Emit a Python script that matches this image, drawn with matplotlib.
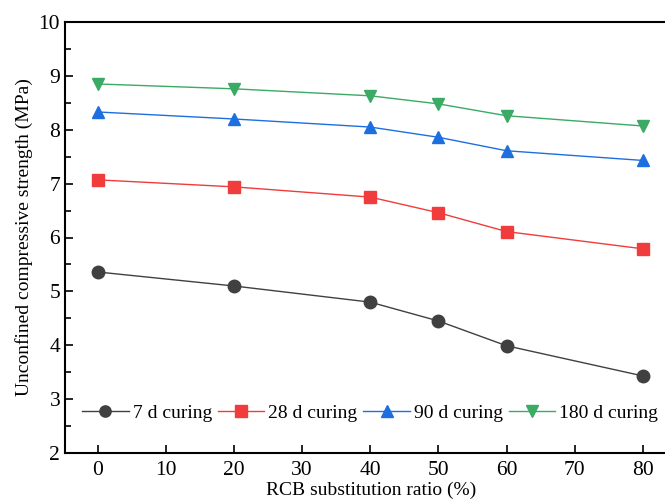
import matplotlib
matplotlib.use("Agg")
import matplotlib.pyplot as plt
from matplotlib.ticker import MultipleLocator

plt.rcParams['font.family'] = ['Liberation Serif', 'DejaVu Serif']
plt.rcParams['mathtext.fontset'] = 'stix'

ratio = [0, 20, 40, 50, 60, 80]
s7 = [5.36, 5.10, 4.80, 4.45, 3.99, 3.43]
s28 = [7.07, 6.94, 6.75, 6.46, 6.11, 5.79]
s90 = [8.33, 8.20, 8.05, 7.86, 7.61, 7.43]
s180 = [8.85, 8.76, 8.63, 8.48, 8.26, 8.07]
labels = ["7 d curing", "28 d curing", "90 d curing", "180 d curing"]
colors = ["#404040", "#f03c3c", "#1d6fe0", "#3aaa64"]
markers = ["o", "s", "^", "v"]

fig = plt.figure(figsize=(6.65, 5.03), dpi=100)
ax = fig.add_axes([65/665, 50/503, 612/665, 431/503])

for y, lab, c, m in zip([s7, s28, s90, s180], labels, colors, markers):
    ax.plot(ratio, y, color=c, marker=m, markersize=9, linewidth=1.0, label=lab)

ax.set_xlim(-4.8, 85)
ax.set_ylim(2, 10)
ax.set_xticks(range(0, 81, 10))
ax.yaxis.set_major_locator(MultipleLocator(1))
ax.yaxis.set_minor_locator(MultipleLocator(0.5))
ax.tick_params(axis='both', which='both', direction='in', labelsize=15.5, width=1.2)
ax.tick_params(axis='both', which='major', length=6)
ax.tick_params(axis='y', which='minor', length=4)
ax.tick_params(axis='x', which='major', pad=6)
for sp in ax.spines.values():
    sp.set_linewidth(1.5)

ax.set_xlabel("RCB substitution ratio (%)", fontsize=14, labelpad=1)
ax.set_ylabel("Unconfined compressive strength (MPa)", fontsize=14, labelpad=4)

ax.legend(loc='center', bbox_to_anchor=(0.4985, 0.093), ncol=4, frameon=False,
          fontsize=14, handlelength=2.4, handletextpad=0.2, columnspacing=0.3,
          markerscale=0.9)

fig.savefig("out.png", dpi=100)
